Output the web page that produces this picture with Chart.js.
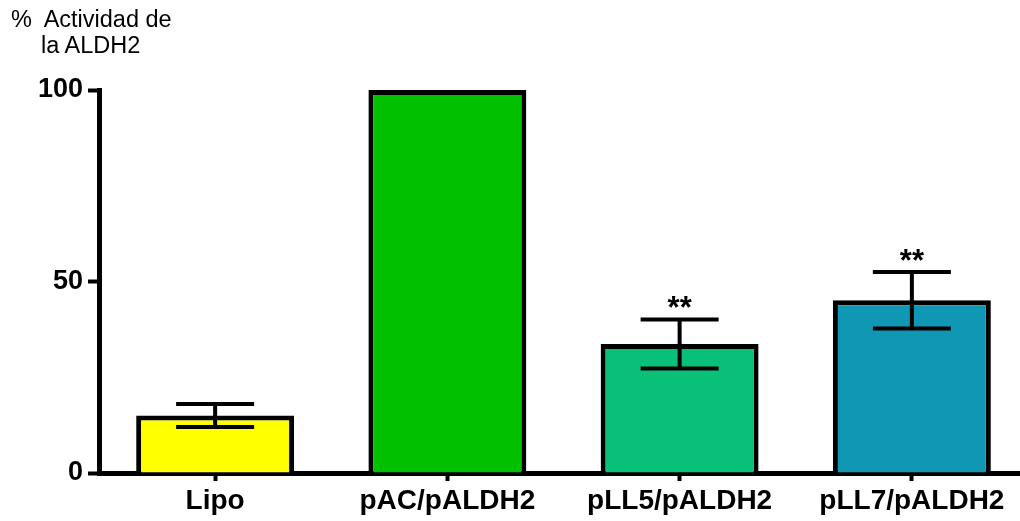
<!DOCTYPE html>
<html lang="es">
<head>
<meta charset="utf-8" />
<title>Actividad de la ALDH2</title>
<script src="https://cdn.jsdelivr.net/npm/chart.js@4.4"></script>
<style>
  html,body{margin:0;padding:0;background:#fff;overflow:hidden;}
  /* canvas is a bit wider than the view: the x axis runs off the right edge as in the original */
  #wrap{position:relative;width:1020px;height:521px;overflow:hidden;}
  #ylab{position:absolute;left:11px;top:6px;font:23.5px 'Liberation Sans',Arial,sans-serif;line-height:26px;color:#000;white-space:nowrap;}
  #ylab span{display:block;padding-left:30px;}
  canvas{position:absolute;left:0;top:0;}
</style>
</head>
<body>
<div id="wrap">
  <canvas id="c" width="1028" height="521"></canvas>
  <div id="ylab">%&nbsp; Actividad de<span>la ALDH2</span></div>
</div>
<script>
/***** ---------- Data ---------- *****/
const LABELS=['Lipo','pAC/pALDH2','pLL5/pALDH2','pLL7/pALDH2'];
const MEANS =[15,100,33.7,45.1];
const ERRS  =[3,0,6.4,7.4];
const SIGNIF=['','','**','**'];
const COLORS=['#ffff00','#00c000','#08c078','#1097b4'];
const Y_TICKS=[0,50,100];

const FONT="'Liberation Sans',Arial,sans-serif";

// error bars + significance stars, positioned through the scales
const errPlugin={
  id:'errbars',
  afterDatasetsDraw(chart){
    const {ctx,scales:{x,y}}=chart;
    ctx.save();
    ctx.strokeStyle='#000';ctx.lineWidth=4;ctx.lineCap='butt';
    MEANS.forEach((m,i)=>{
      if(!ERRS[i])return;
      const cx=x.getPixelForValue(i);
      const yt=y.getPixelForValue(m+ERRS[i]);
      const yb=y.getPixelForValue(m-ERRS[i]);
      const half=39;
      ctx.beginPath();
      ctx.moveTo(cx,yt);ctx.lineTo(cx,yb);
      ctx.moveTo(cx-half,yt);ctx.lineTo(cx+half,yt);
      ctx.moveTo(cx-half,yb);ctx.lineTo(cx+half,yb);
      ctx.stroke();
      if(SIGNIF[i]){
        ctx.fillStyle='#000';
        ctx.font='bold 31px '+FONT;
        ctx.textAlign='center';ctx.textBaseline='alphabetic';
        ctx.fillText(SIGNIF[i],cx,yt-1);
      }
    });
    ctx.restore();
  }
};

new Chart(document.getElementById('c'),{
  type:'bar',
  data:{labels:LABELS,datasets:[{data:MEANS,backgroundColor:COLORS,borderColor:'#000',borderWidth:5,
    categoryPercentage:1,barPercentage:0.68,borderSkipped:'start'}]},
  options:{
    responsive:false,animation:false,
    layout:{padding:{top:90,right:0,left:0,bottom:0}},
    plugins:{legend:{display:false},tooltip:{enabled:false}},
    scales:{
      x:{
        grid:{display:true,drawOnChartArea:false,offset:false,tickLength:8,tickWidth:4,color:'#000'},
        border:{display:true,color:'#000',width:5},
        ticks:{color:'#000',font:{family:FONT,size:28,weight:'bold'},padding:3,maxRotation:0},
        afterFit(s){s.height=521-473;}
      },
      y:{
        min:0,max:100,
        afterBuildTicks(s){s.ticks=Y_TICKS.map(v=>({value:v}));},
        grid:{display:true,drawOnChartArea:false,tickLength:11,tickWidth:4,color:'#000'},
        border:{display:true,color:'#000',width:5},
        ticks:{color:'#000',font:{family:FONT,size:27,weight:'bold'},padding:5},
        afterFit(s){s.width=99;}
      }
    }
  },
  plugins:[errPlugin]
});
</script>
</body>
</html>
